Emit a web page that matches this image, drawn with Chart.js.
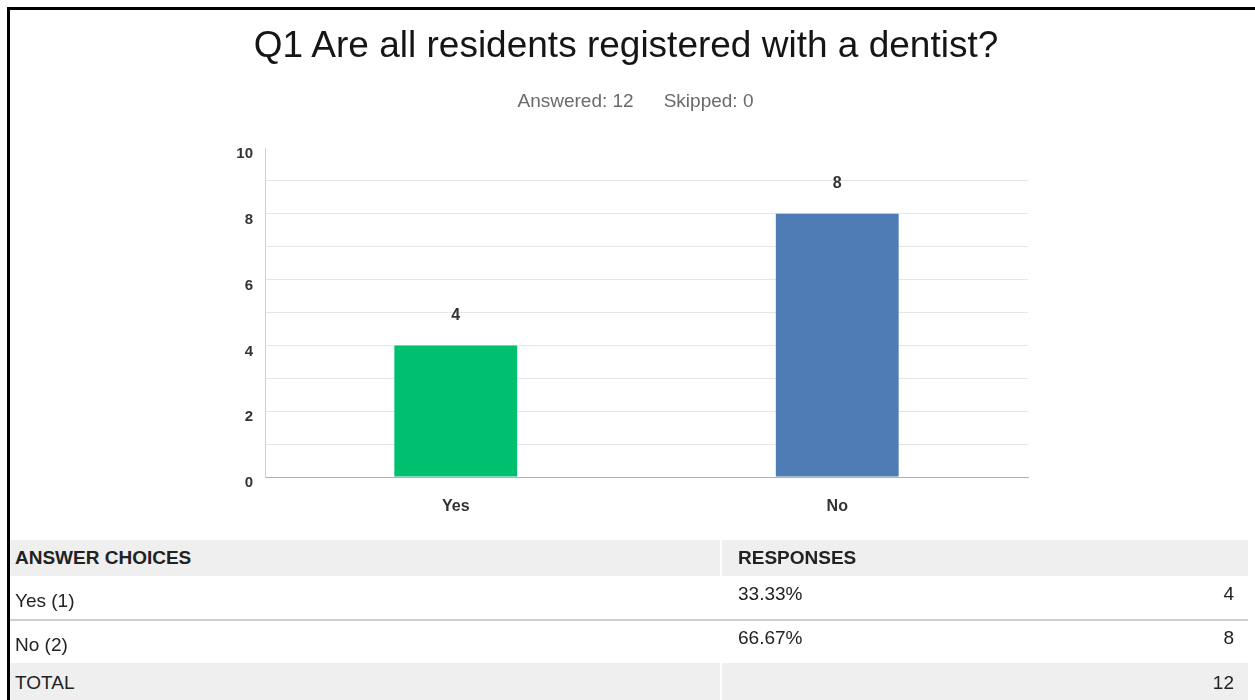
<!DOCTYPE html>
<html>
<head>
<meta charset="utf-8">
<script src="https://cdn.jsdelivr.net/npm/chart.js@4.4.1/dist/chart.umd.min.js"></script>
<style>
  html, body { margin: 0; padding: 0; background: #fff; }
  body { width: 1255px; height: 700px; position: relative; overflow: hidden;
         font-family: "Liberation Sans", Arial, sans-serif; }
  #chartWrap { position: absolute; left: 0; top: 0; width: 1255px; height: 700px; }
  .frameTop { position: absolute; left: 7px; top: 7px; width: 1248px; height: 3px; background: #000; }
  .frameLeft { position: absolute; left: 7px; top: 7px; width: 3px; height: 693px; background: #000; }
  .abs { position: absolute; white-space: nowrap; }
  #title { left: 0; width: 1252px; top: 24px; text-align: center; font-size: 37px; color: #151515; line-height: 42px; }
  #subtitle { left: 0; width: 1271px; top: 90px; text-align: center; font-size: 19px; color: #6a6a6a; line-height: 22px; }
  #subtitle span + span { margin-left: 30px; }
  .band { position: absolute; background: #efefef; }
  .cell { position: absolute; font-size: 19px; color: #222; line-height: 22px; white-space: nowrap; }
  .bold { font-weight: bold; }
  .right { text-align: right; }
</style>
</head>
<body>
<div id="chartWrap"><canvas id="c"></canvas></div>
<div class="frameTop"></div>
<div class="frameLeft"></div>
<div id="title" class="abs"></div>
<div id="subtitle" class="abs"></div>
<div id="table"></div>
<script>
const titleText = "Q1 Are all residents registered with a dentist?";
const answeredLabel = "Answered: 12";
const skippedLabel = "Skipped: 0";
const categories = ["Yes", "No"];
const responseCounts = [4, 8];
const barColors = ["#00bf6f", "#507cb6"];
const tableChoices = ["Yes (1)", "No (2)"];
const tablePercents = ["33.33%", "66.67%"];
const tableTotal = 12;
const tableHeaders = ["ANSWER CHOICES", "RESPONSES"];

document.getElementById('title').textContent = titleText;
const sub = document.getElementById('subtitle');
[answeredLabel, skippedLabel].forEach(t => { const s = document.createElement('span'); s.textContent = t; sub.appendChild(s); });

// Table
const tbl = document.getElementById('table');
function add(cls, style, text) {
  const d = document.createElement('div');
  d.className = cls;
  Object.assign(d.style, style);
  if (text !== undefined) d.textContent = text;
  tbl.appendChild(d);
  return d;
}
add('band', {left: '10px', top: '540px', width: '710px', height: '36px'});
add('band', {left: '722px', top: '540px', width: '526px', height: '36px'});
add('cell bold', {left: '15px', top: '547px'}, tableHeaders[0]);
add('cell bold', {left: '738px', top: '547px'}, tableHeaders[1]);
const rowTops = [590, 634];
const pctTops = [583, 627];
tableChoices.forEach((ch, i) => {
  add('cell', {left: '15px', top: rowTops[i] + 'px'}, ch);
  add('cell', {left: '738px', top: pctTops[i] + 'px'}, tablePercents[i]);
  add('cell right', {left: '1100px', width: '134px', top: pctTops[i] + 'px'}, String(responseCounts[i]));
});
add('band', {left: '10px', top: '619px', width: '1238px', height: '2px', background: '#cfcfcf'});
add('band', {left: '10px', top: '663px', width: '710px', height: '37px'});
add('band', {left: '722px', top: '663px', width: '526px', height: '37px'});
add('cell', {left: '15px', top: '672px'}, 'TOTAL');
add('cell right', {left: '1100px', width: '134px', top: '672px'}, String(tableTotal));

const valueLabels = {
  id: 'valueLabels',
  afterDatasetsDraw(chart) {
    const ctx = chart.ctx;
    const meta = chart.getDatasetMeta(0);
    ctx.save();
    ctx.font = 'bold 16px "Liberation Sans", Arial, sans-serif';
    ctx.fillStyle = '#333';
    ctx.textAlign = 'center';
    ctx.textBaseline = 'middle';
    meta.data.forEach((bar, i) => {
      ctx.fillText(String(chart.data.datasets[0].data[i]), bar.x, bar.y - 30);
    });
    ctx.restore();
  }
};

new Chart(document.getElementById('c'), {
  type: 'bar',
  data: {
    labels: categories,
    datasets: [{
      data: responseCounts,
      backgroundColor: barColors,
      borderWidth: 0,
      barPercentage: 0.322,
      categoryPercentage: 1.0
    }]
  },
  options: {
    responsive: true,
    maintainAspectRatio: false,
    animation: false,
    layout: { padding: { left: 215, right: 227, top: 148, bottom: 183 } },
    plugins: { legend: { display: false }, tooltip: { enabled: false }, title: { display: false } },
    scales: {
      x: {
        grid: { display: false, drawTicks: false },
        border: { display: true, color: '#b0b0b0', width: 1 },
        ticks: { color: '#333', font: { family: '"Liberation Sans", Arial, sans-serif', size: 16, weight: 'bold' }, padding: 20 },
        afterFit: (s) => { s.height = 40; }
      },
      y: {
        min: 0, max: 10,
        grid: {
          drawTicks: false,
          color: (ctx) => ctx.tick && ctx.tick.value === 10 ? 'rgba(0,0,0,0)' : (ctx.tick && ctx.tick.value === 0 ? '#b0b0b0' : '#e6e6e6'),
          lineWidth: 1
        },
        border: { display: true, color: '#d0d0d0', width: 1 },
        ticks: {
          stepSize: 1,
          color: '#333',
          font: { family: '"Liberation Sans", Arial, sans-serif', size: 15, weight: 'bold' },
          padding: 12,
          labelOffset: 6,
          callback: (v) => (v % 2 === 0 ? String(v) : '')
        },
        afterFit: (s) => { s.width = 50; }
      }
    }
  },
  plugins: [valueLabels]
});
</script>
</body>
</html>
